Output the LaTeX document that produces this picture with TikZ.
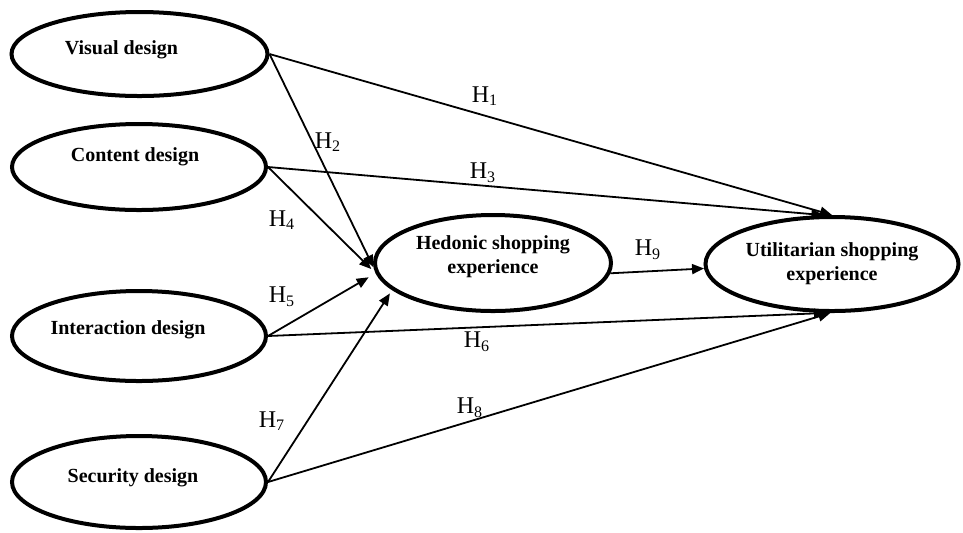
\documentclass[tikz,border=0pt]{standalone}
\usepackage{fontspec}
\setmainfont{Liberation Serif}
\usetikzlibrary{shapes.geometric,arrows.meta}
\tikzset{
  factor/.style={draw,ellipse,line width=2pt,font=\bfseries,align=center,inner sep=0pt},
  hyp/.style={-{Triangle[length=6pt,width=5pt]},line width=0.9pt},
  hlab/.style={font=\fontsize{12}{14}\selectfont,inner sep=0pt}
}
\newcommand{\hy}[1]{H\textsubscript{#1}}

\begin{document}
\begin{tikzpicture}[x=0.5pt,y=-0.5pt]
   \useasboundingbox (0,0) rectangle (963,532);
   % design factors
   \node[factor,minimum width=128pt,minimum height=42pt,text depth=6pt]   (vis) at (139.5,54) {Visual design\kern18pt};
   \node[factor,minimum width=127pt,minimum height=43pt,text depth=12pt]  (con) at (139,167)  {Content design\kern4pt};
   \node[factor,minimum width=127pt,minimum height=45pt,text depth=8pt]   (int) at (139,336)  {Interaction design\kern11pt};
   \node[factor,minimum width=127pt,minimum height=46pt,text depth=6pt]   (sec) at (139,482)  {Security design\kern6pt};
   % experiences
   \node[factor,minimum width=118pt,minimum height=48pt,text depth=8pt]   (hed) at (493,263)  {Hedonic shopping\\experience};
   \node[factor,minimum width=126.5pt,minimum height=47pt] (uti) at (832,264) {Utilitarian shopping\\experience};
   % paths
   \draw[hyp] (vis.east) -- (uti.north);
   \draw[hyp] (vis.east) -- (hed.182);
   \draw[hyp] (con.east) -- (uti.100);
   \draw[hyp,shorten >=3pt] (con.east) -- (hed.185);
   \draw[hyp,shorten >=4pt] (int.east) -- (hed.185);
   \draw[hyp] (int.east) -- (uti.263);
   \draw[hyp,shorten >=2pt] (sec.east) -- (hed.195);
   \draw[hyp] (sec.east) -- (uti.268);
   \draw[hyp] (hed.355) -- (uti.182);
   % hypotheses
   \node[hlab] (h1) at (485,96)  {\hy{1}};
   \node[hlab] (h2) at (328,142) {\hy{2}};
   \node[hlab] (h3) at (483,173) {\hy{3}};
   \node[hlab] (h4) at (282,220) {\hy{4}};
   \node[hlab] (h5) at (282,297) {\hy{5}};
   \node[hlab] (h6) at (477,342) {\hy{6}};
   \node[hlab] (h7) at (272,421) {\hy{7}};
   \node[hlab] (h8) at (470,408) {\hy{8}};
   \node[hlab] (h9) at (648,250) {\hy{9}};
\end{tikzpicture}
\end{document}
